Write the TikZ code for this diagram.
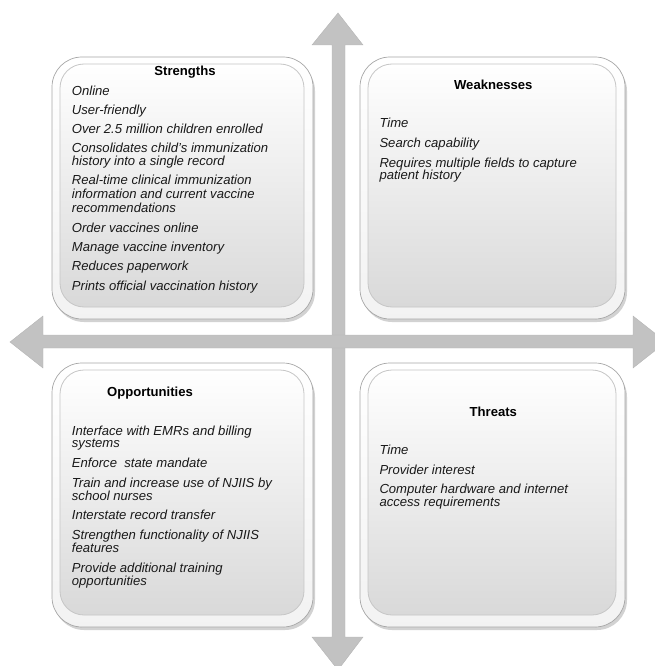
\documentclass[tikz,border=0pt]{standalone}
\usepackage{fontspec}
\setmainfont{Liberation Sans}
\begin{document}
\begin{tikzpicture}[x=1pt,y=-1pt,
  arrowfill/.style={fill=gray!48,draw=gray!58,line width=0.4pt},
  boxout/.style={rounded corners=30pt,top color=white,bottom color=gray!10,draw=gray!70,line width=0.7pt},
  boxin/.style={rounded corners=24pt,top color=white,bottom color=gray!30,draw=gray!45,line width=0.8pt},
  item/.style={anchor=base west,inner sep=0pt,font=\fontsize{13.1}{13}\selectfont\itshape,text=black!90},
  ttl/.style={anchor=base,inner sep=0pt,font=\fontsize{13.1}{13}\selectfont\bfseries,text=black}]
\useasboundingbox (0,0) rectangle (655,666);
\clip (0,0) rectangle (655,666);
% arrows
\fill[arrowfill] (332,45) -- (312,45) -- (338,13) -- (363,45) -- (345,45) -- (345,637) -- (363,637) -- (338,670) -- (312,637) -- (332,637) -- cycle;
\fill[arrowfill] (43,335) -- (43,316) -- (10,342) -- (43,368) -- (43,348) -- (633,348) -- (633,368) -- (666,342) -- (633,316) -- (633,335) -- cycle;
% boxes
\foreach \x/\y/\w/\h in {52/57/261/262,360/57/265/262,52/363/261/264,360/363/265/264}{
  \fill[gray!35,rounded corners=30pt] (\x+2,\y+4) rectangle (\x+\w+2,\y+\h+3);
  \path[boxout] (\x,\y) rectangle (\x+\w,\y+\h);
  \path[boxin] (\x+8,\y+7) rectangle (\x+\w-9,\y+\h-12);
}
% Strengths
\node[ttl] (st) at (185,76) {Strengths};
\foreach \yy/\t [count=\i] in {90.7/Online,110/User-friendly,129.3/Over 2.5 million children enrolled,148.3/Consolidates child’s immunization,161/history into a single record,180/Real-time clinical immunization,194/information and current vaccine,208.3/recommendations,227.7/Order vaccines online,246.7/Manage vaccine inventory,265.7/Reduces paperwork,285.7/Prints official vaccination history}
  \node[item] (s\i) at (71.7,\yy+4.5) {\t};
% Weaknesses
\node[ttl] (wt) at (493.3,89.5) {Weaknesses};
\foreach \yy/\t [count=\i] in {123.3/Time,142.7/Search capability,162.7/Requires multiple fields to capture,175/patient history}
  \node[item] (w\i) at (379.3,\yy+4.5) {\t};
% Opportunities
\node[ttl] (ot) at (150,396) {Opportunities};
\foreach \yy/\t [count=\i] in {430.7/Interface with EMRs and billing,443.3/systems,463.3/Enforce~ state mandate,483.3/Train and increase use of NJIIS by,496/school nurses,515/Interstate record transfer,535/Strengthen functionality of NJIIS,548.3/features,567.7/Provide additional training,580.7/opportunities}
  \node[item] (o\i) at (71.7,\yy+4.5) {\t};
% Threats
\node[ttl] (tt) at (493.3,416) {Threats};
\foreach \yy/\t [count=\i] in {450/Time,470/Provider interest,489.3/Computer hardware and internet,502.3/access requirements}
  \node[item] (t\i) at (379.3,\yy+4.5) {\t};
\end{tikzpicture}
\end{document}
